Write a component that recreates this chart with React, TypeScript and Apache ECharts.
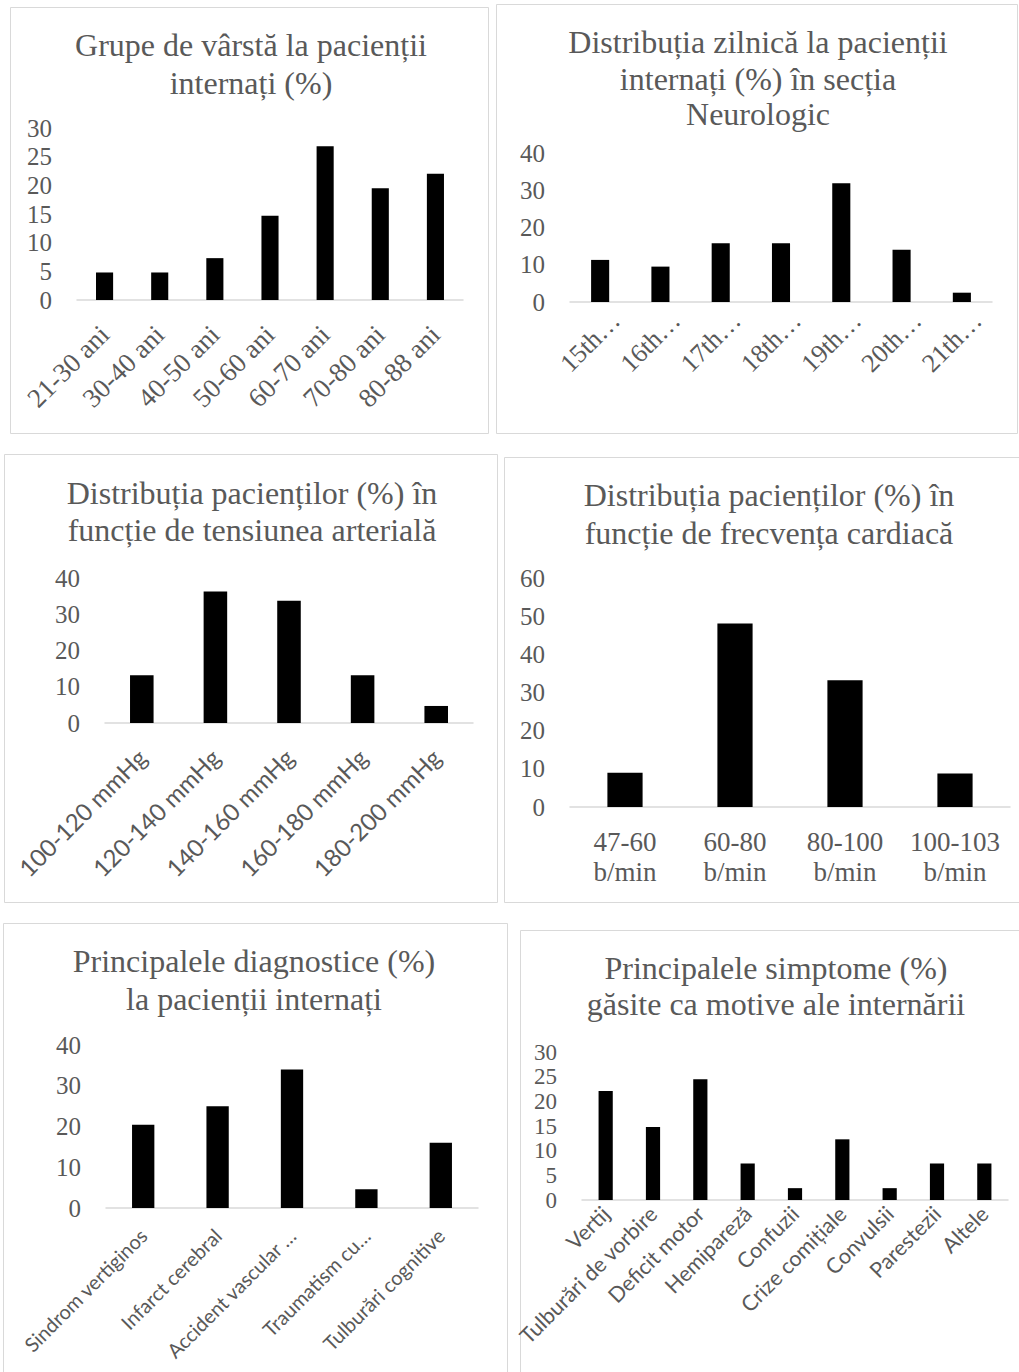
import React, { useEffect, useRef } from "react";
import * as echarts from "echarts";

// ---- Data ----
const ageCategories = ["21-30 ani", "30-40 ani", "40-50 ani", "50-60 ani", "60-70 ani", "70-80 ani", "80-88 ani"];
const ageValues = [4.8, 4.8, 7.3, 14.7, 26.8, 19.5, 22.0];

const dayCategories = ["15th…", "16th…", "17th…", "18th…", "19th…", "20th…", "21th…"];
const dayValues = [11.3, 9.5, 15.8, 15.8, 31.9, 14.0, 2.5];

const bpCategories = ["100-120 mmHg", "120-140 mmHg", "140-160 mmHg", "160-180 mmHg", "180-200 mmHg"];
const bpValues = [13.2, 36.3, 33.7, 13.2, 4.7];

const hrCategories = ["47-60\nb/min", "60-80\nb/min", "80-100\nb/min", "100-103\nb/min"];
const hrValues = [9.0, 48.1, 33.2, 8.8];

const diagCategories = ["Sindrom vertiginos", "Infarct cerebral", "Accident vascular …", "Traumatism cu…", "Tulburări cognitive"];
const diagValues = [20.4, 25.0, 34.0, 4.6, 16.0];

const symCategories = ["Vertij", "Tulburări de vorbire", "Deficit motor", "Hemipareză", "Confuzii", "Crize comițiale", "Convulsii", "Parestezii", "Altele"];
const symValues = [22.1, 14.8, 24.5, 7.4, 2.4, 12.3, 2.4, 7.4, 7.4];

const titles = [
  ["Grupe de vârstă la pacienții", "internați (%)"],
  ["Distribuția zilnică la pacienții", "internați (%) în secția", "Neurologic"],
  ["Distribuția pacienților (%) în", "funcție de tensiunea arterială"],
  ["Distribuția pacienților (%) în", "funcție de frecvența cardiacă"],
  ["Principalele diagnostice (%)", "la pacienții internați"],
  ["Principalele simptome (%)", "găsite ca motive ale internării"],
];

const yMaxima = [30, 40, 40, 60, 40, 30];
const yIntervals = [5, 10, 10, 10, 10, 5];

// ---- Layout ----
const SERIF = "'Liberation Serif', 'Times New Roman', serif";
const SANS = "Lato, 'Open Sans', sans-serif";
const GRAY = "#595959";

const panels = [
  { cats: ageCategories, vals: ageValues, grid: { left: 77, top: 128, width: 386, height: 172 }, border: [10, 7, 478, 426], titleX: 251, titleY: [45, 83], barW: "31%", yFont: 25, xl: { rotate: 45, fontFamily: SERIF, fontSize: 27, margin: 30 } },
  { cats: dayCategories, vals: dayValues, grid: { left: 570, top: 153, width: 422, height: 149 }, border: [496, 4, 521, 429], titleX: 758, titleY: [42, 79, 114], barW: "30%", yFont: 25, xl: { rotate: 45, fontFamily: SERIF, fontSize: 26, margin: 30, padding: [0, -22, 0, 0] } },
  { cats: bpCategories, vals: bpValues, grid: { left: 105, top: 578, width: 368, height: 145 }, border: [4, 454, 493, 448], titleX: 252, titleY: [493, 530], barW: "32%", yFont: 25, xl: { rotate: 45, fontFamily: SANS, fontSize: 24, margin: 30 } },
  { cats: hrCategories, vals: hrValues, grid: { left: 570, top: 578, width: 440, height: 229 }, border: [504, 457, 530, 445], titleX: 769, titleY: [495, 533], barW: "32%", yFont: 25, xl: { rotate: 0, fontFamily: SERIF, fontSize: 27, margin: 20, lineHeight: 30 } },
  { cats: diagCategories, vals: diagValues, grid: { left: 106, top: 1045, width: 372, height: 163 }, border: [3, 923, 504, 470], titleX: 254, titleY: [961, 999], barW: "30%", yFont: 25, xl: { rotate: 45, fontFamily: SANS, fontSize: 20, margin: 24 } },
  { cats: symCategories, vals: symValues, grid: { left: 582, top: 1052, width: 426, height: 148 }, border: [520, 930, 520, 470], titleX: 776, titleY: [968, 1004], barW: "30%", yFont: 23, xl: { rotate: 45, fontFamily: SANS, fontSize: 21.5, margin: 10 } },
];

export default function App() {
  const ref = useRef<HTMLDivElement>(null);

  useEffect(() => {
    if (!ref.current) return;
    const chart = echarts.init(ref.current, null, { renderer: "svg" });

    const graphic: any[] = [];
    panels.forEach((p, i) => {
      const [bx, by, bw, bh] = p.border;
      graphic.push({
        type: "rect",
        shape: { x: bx + 0.5, y: by + 0.5, width: bw, height: bh },
        style: { fill: "none", stroke: "#d9d9d9", lineWidth: 1 },
        silent: true,
        z: -1,
      });
      titles[i].forEach((line, j) => {
        graphic.push({
          type: "text",
          x: p.titleX,
          y: p.titleY[j],
          silent: true,
          style: {
            text: line,
            fill: GRAY,
            fontFamily: SERIF,
            fontSize: 32,
            align: "center",
            verticalAlign: "middle",
          },
        });
      });
    });

    const option: any = {
      animation: false,
      backgroundColor: "#ffffff",
      graphic,
      grid: panels.map((p) => ({ ...p.grid, containLabel: false, outerBoundsMode: "none" })),
      xAxis: panels.map((p, i) => ({
        type: "category",
        gridIndex: i,
        data: p.cats,
        axisLine: { show: true, lineStyle: { color: "#d9d9d9", width: 1.5 } },
        axisTick: { show: false },
        splitLine: { show: false },
        axisLabel: {
          interval: 0,
          color: GRAY,
          rotate: p.xl.rotate,
          fontFamily: p.xl.fontFamily,
          fontSize: p.xl.fontSize,
          margin: p.xl.margin,
          lineHeight: (p.xl as any).lineHeight,
          padding: (p.xl as any).padding,
          hideOverlap: false,
        },
      })),
      yAxis: panels.map((p, i) => ({
        type: "value",
        gridIndex: i,
        min: 0,
        max: yMaxima[i],
        interval: yIntervals[i],
        axisLine: { show: false },
        axisTick: { show: false },
        splitLine: { show: false },
        axisLabel: {
          color: GRAY,
          fontFamily: SERIF,
          fontSize: p.yFont,
          margin: 25,
        },
      })),
      series: panels.map((p, i) => ({
        type: "bar",
        xAxisIndex: i,
        yAxisIndex: i,
        data: p.vals,
        barWidth: p.barW,
        itemStyle: { color: "#000000" },
      })),
    };

    chart.setOption(option);
    return () => chart.dispose();
  }, []);

  return (
    <div
      ref={ref}
      style={{ position: "absolute", left: 0, top: 0, width: 1019, height: 1372, background: "#fff" }}
    />
  );
}
